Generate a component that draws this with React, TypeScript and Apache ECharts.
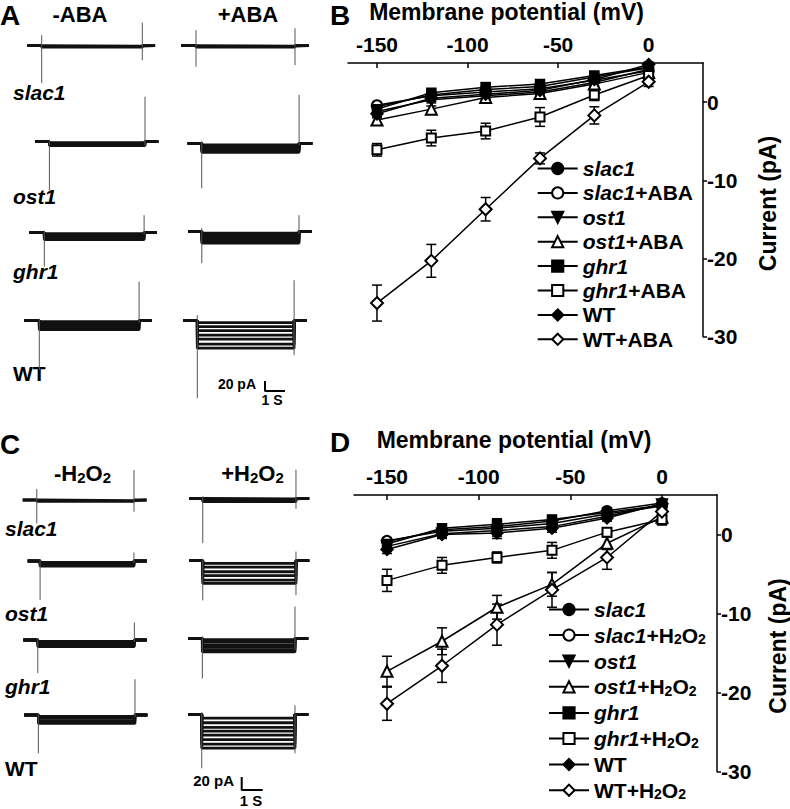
import React, { useEffect, useRef } from 'react';
import * as echarts from 'echarts';

// ================= DATA =================
const VOLTAGES = [-150, -120, -90, -60, -30, 0]; // mV
const MV_TICKS = [-150, -100, -50, 0];
const PA_TICKS = [-30, -20, -10, 0];
const GENOTYPES = ['slac1', 'ost1', 'ghr1', 'WT'];

// Panel B (ABA) I-V means (pA)
const B_NAMES = ['slac1', 'slac1+ABA', 'ost1', 'ost1+ABA', 'ghr1', 'ghr1+ABA', 'WT', 'WT+ABA'];
const B_SLAC1 = [-0.6, 0.9, 1.6, 2.0, 3.2, 4.4];
const B_SLAC1_ABA = [-0.4, 0.8, 1.3, 1.7, 2.8, 4.0];
const B_OST1 = [-1.2, 0.3, 0.8, 1.3, 2.5, 4.2];
const B_OST1_ABA = [-2.3, -0.9, 0.6, 1.1, 2.3, 3.8];
const B_GHR1 = [-0.9, 1.2, 1.9, 2.3, 3.4, 4.5];
const B_GHR1_ABA = [-6.1, -4.6, -3.7, -1.9, 0.9, 3.4];
const B_WT = [-1.5, 0.5, 1.0, 1.5, 2.9, 4.8];
const B_WT_ABA = [-25.7, -20.3, -13.7, -7.2, -1.7, 2.6];
// Panel B errors (pA)
const B_SLAC1_ERR = [0.5, 0.4, 0.5, 0.4, 0.4, 0.3];
const B_SLAC1_ABA_ERR = [0.4, 0.4, 0.4, 0.4, 0.4, 0.3];
const B_OST1_ERR = [0.5, 0.4, 0.5, 0.4, 0.4, 0.3];
const B_OST1_ABA_ERR = [0.4, 0.4, 0.4, 0.4, 0.4, 0.3];
const B_GHR1_ERR = [0.5, 0.4, 0.6, 0.4, 0.4, 0.3];
const B_GHR1_ABA_ERR = [0.8, 1.0, 1.0, 1.2, 0.7, 0.5];
const B_WT_ERR = [0.5, 0.4, 0.5, 0.4, 0.4, 0.3];
const B_WT_ABA_ERR = [2.3, 2.1, 1.5, 0.7, 1.1, 0.6];

// Panel D (H2O2) I-V means (pA)
const D_NAMES = ['slac1', 'slac1+H2O2', 'ost1', 'ost1+H2O2', 'ghr1', 'ghr1+H2O2', 'WT', 'WT+H2O2'];
const D_SLAC1 = [-0.9, 0.6, 1.0, 1.7, 3.0, 4.0];
const D_SLAC1_H2O2 = [-0.8, 0.4, 0.8, 1.4, 2.6, 3.6];
const D_OST1 = [-1.5, 0.1, 0.5, 1.0, 2.3, 3.8];
const D_OST1_H2O2 = [-17.3, -13.5, -9.2, -6.3, -1.1, 2.2];
const D_GHR1 = [-1.2, 0.8, 1.3, 1.9, 2.8, 3.7];
const D_GHR1_H2O2 = [-5.8, -3.9, -2.9, -2.0, 0.3, 1.9];
const D_WT = [-1.9, 0.0, 0.2, 0.8, 2.1, 3.9];
const D_WT_H2O2 = [-21.4, -16.6, -11.4, -7.0, -2.9, 2.9];
// Panel D errors (pA)
const D_SLAC1_ERR = [0.5, 0.5, 0.7, 0.5, 0.4, 0.3];
const D_SLAC1_H2O2_ERR = [0.4, 0.4, 0.6, 0.4, 0.4, 0.3];
const D_OST1_ERR = [0.5, 0.5, 0.7, 0.5, 0.4, 0.3];
const D_OST1_H2O2_ERR = [1.9, 1.7, 1.5, 1.5, 0.8, 0.5];
const D_GHR1_ERR = [0.5, 0.5, 0.7, 0.5, 0.4, 0.3];
const D_GHR1_H2O2_ERR = [1.4, 1.0, 0.7, 1.0, 0.5, 0.7];
const D_WT_ERR = [0.5, 0.5, 0.7, 0.5, 0.4, 0.3];
const D_WT_H2O2_ERR = [2.1, 2.1, 2.6, 2.2, 1.5, 0.5];

// Current traces: times (s) = [pulse on, pulse off, end]; levels (pA) of each sweep during pulse;
// transients (pA) = [on up, on down, off up, off down]. Rows: slac1, ost1, ghr1, WT
const A_MINUS_TIMES = [[0.72, 5.75, 6.39], [0.72, 5.5, 6.17], [0.75, 5.74, 6.37], [0.75, 5.74, 6.37]];
const A_MINUS_LEVELS = [[-1, -2, -3], [-2, -4, -6, -8], [-2, -5, -8, -11, -14], [-2, -6, -10, -14, -18]];
const A_MINUS_SPIKES = [[21, -75, 46, -29], [4, -97, 90, -8], [4, -68, 35, -4], [4, -99, 78, -4]];
const A_PLUS_TIMES = [[0.75, 5.7, 6.4], [0.7, 5.57, 6.23], [0.69, 5.55, 6.19], [0.7, 5.54, 6.17]];
const A_PLUS_LEVELS = [[-1, -2, -3], [-3, -6, -9, -12, -15, -18], [-3, -7, -11, -15, -19, -23], [-4, -12, -20, -29, -37, -47, -55]];
const A_PLUS_SPIKES = [[31, -42, 35, -39], [4, -90, 97, -4], [7, -63, 33, -4], [11, -155, 81, -69]];

const C_MINUS_TIMES = [[0.67, 5.3, 5.9], [0.59, 5.06, 5.67], [0.69, 5.29, 5.88], [0.67, 5.27, 5.86]];
const C_MINUS_LEVELS = [[-1, -2], [-2, -4, -6, -8], [-2, -4, -7, -10], [-2, -5, -9, -13]];
const C_MINUS_SPIKES = [[17, -36, 46, -18], [3, -60, 13, -3], [3, -51, 27, -3], [3, -59, 55, -3]];
const C_PLUS_TIMES = [[0.64, 5.08, 5.71], [0.64, 5.08, 5.71], [0.67, 5.08, 5.71], [0.64, 5.08, 5.71]];
const C_PLUS_LEVELS = [[-1, -2, -3, -5], [-4, -10, -17, -23, -30, -35], [-2, -6, -10, -14, -18, -21], [-6, -13, -20, -26, -32, -39, -46, -52]];
const C_PLUS_SPIKES = [[3, -69, 44, -16], [3, -61, 14, -53], [3, -62, 49, -18], [3, -83, 14, -60]];

// Scale bar values
const SCALE_PA = 20;
const SCALE_S = 1;

// ================= LAYOUT / STYLE =================
const FONT = '"Liberation Sans", Arial, Helvetica, sans-serif';
const A_PX_PER_S = 20;
const A_PX_PER_PA = 0.5;
const C_PX_PER_S = 21;
const C_PX_PER_PA = 0.65;
const A_MINUS_LEFT = [27.3, 35, 29.3, 24.3];
const A_MINUS_BASE = [45.7, 141.7, 232.7, 320.7];
const A_PLUS_LEFT = [181, 187.7, 188, 183.3];
const A_PLUS_BASE = [45.7, 143.3, 231.7, 320.7];
const C_MINUS_LEFT = [22.7, 27.7, 23.3, 24.3];
const C_MINUS_BASE = [500, 561, 640, 715];
const C_PLUS_LEFT = [189.3, 189.3, 188.3, 188.3];
const C_PLUS_BASE = [498.3, 560.7, 638.3, 714.3];

const SYMBOLS = ['circle', 'emptyCircle', 'triangle', 'emptyTriangle', 'rect', 'emptyRect', 'diamond', 'emptyDiamond'];
const SYMBOL_SIZES = [10, 10, 11, 11, 9, 9, 12, 12];
const SYMBOL_ROTATE = [0, 0, 180, 0, 0, 0, 0, 0];

function rich(size: number, lh: number) {
  const base = { fontFamily: FONT, fontWeight: 'bold', color: '#000', fill: '#000' };
  return {
    i: { ...base, fontSize: size, fontStyle: 'italic', lineHeight: lh },
    n: { ...base, fontSize: size, lineHeight: lh },
    s: { ...base, fontSize: Math.round(size * 0.66), lineHeight: Math.round(size * 0.6), verticalAlign: 'bottom' },
  };
}

function richLabel(label: string): string {
  const plus = label.indexOf('+');
  const minus = label.indexOf('-') === 0;
  let gene = plus >= 0 ? label.slice(0, plus) : label;
  let treat = plus >= 0 ? label.slice(plus) : '';
  if (minus) { gene = ''; treat = label; }
  let s = '';
  if (gene) s += gene === 'WT' ? `{n|${gene}}` : `{i|${gene}}`;
  if (treat.endsWith('H2O2')) s += `{n|${treat[0]}H}{s|2}{n|O}{s|2}`;
  else if (treat) s += `{n|${treat}}`;
  return s;
}

function errRender(_params: any, api: any) {
  const x = api.value(0);
  const y = api.value(1);
  const e = api.value(2);
  const p1 = api.coord([x, y + e]);
  const p2 = api.coord([x, y - e]);
  const hw = 5;
  const st = { stroke: '#000', lineWidth: 1.5 };
  return {
    type: 'group',
    children: [
      { type: 'line', shape: { x1: p1[0], y1: p1[1], x2: p2[0], y2: p2[1] }, style: st },
      { type: 'line', shape: { x1: p1[0] - hw, y1: p1[1], x2: p1[0] + hw, y2: p1[1] }, style: st },
      { type: 'line', shape: { x1: p2[0] - hw, y1: p2[1], x2: p2[0] + hw, y2: p2[1] }, style: st },
    ],
  };
}

function buildOption() {
  const grid: any[] = [];
  const xAxis: any[] = [];
  const yAxis: any[] = [];
  const series: any[] = [];
  const graphic: any[] = [];

  const addGrid = (g: any, xa: any, ya: any) => {
    const i = grid.length;
    grid.push(g);
    xAxis.push({ ...xa, gridIndex: i });
    yAxis.push({ ...ya, gridIndex: i });
    return i;
  };

  const addTrace = (left: number, base: number, pps: number, ppa: number,
    times: number[], levels: number[], spikes: number[]) => {
    const [tOn, tOff, tEnd] = times;
    const [onUp, onDown, offUp, offDown] = spikes;
    const yMax = Math.max(0, onUp, offUp, ...levels);
    const yMin = Math.min(0, onDown, offDown, ...levels);
    const gi = addGrid(
      { left, top: base - yMax * ppa, width: tEnd * pps, height: (yMax - yMin) * ppa },
      { type: 'value', min: 0, max: tEnd, show: false },
      { type: 'value', min: yMin, max: yMax, show: false },
    );
    const common = { type: 'line', xAxisIndex: gi, yAxisIndex: gi, symbol: 'none', clip: false, silent: true, animation: false };
    levels.forEach((L) => {
      series.push({
        ...common,
        data: [[0, 0], [tOn, 0], [tOn, L], [tOff, L], [tOff, 0], [tEnd, 0]],
        lineStyle: { color: '#111', width: 2.8 },
      });
    });
    series.push({ ...common, data: [[tOn, onUp], [tOn, onDown]], lineStyle: { color: '#555', width: 1 } });
    series.push({ ...common, data: [[tOff, offUp], [tOff, offDown]], lineStyle: { color: '#555', width: 1 } });
  };

  const addScaleBar = (cx: number, cy: number, pps: number, ppa: number) => {
    const gi = addGrid(
      { left: cx, top: cy - SCALE_PA * ppa, width: SCALE_S * pps, height: SCALE_PA * ppa },
      { type: 'value', min: 0, max: SCALE_S, show: false },
      { type: 'value', min: 0, max: SCALE_PA, show: false },
    );
    series.push({
      type: 'line', xAxisIndex: gi, yAxisIndex: gi, symbol: 'none', clip: false, silent: true,
      data: [[0, SCALE_PA], [0, 0], [SCALE_S, 0]],
      lineStyle: { color: '#000', width: 2 },
    });
  };

  GENOTYPES.forEach((_g, r) => {
    addTrace(A_MINUS_LEFT[r], A_MINUS_BASE[r], A_PX_PER_S, A_PX_PER_PA, A_MINUS_TIMES[r], A_MINUS_LEVELS[r], A_MINUS_SPIKES[r]);
    addTrace(A_PLUS_LEFT[r], A_PLUS_BASE[r], A_PX_PER_S, A_PX_PER_PA, A_PLUS_TIMES[r], A_PLUS_LEVELS[r], A_PLUS_SPIKES[r]);
    addTrace(C_MINUS_LEFT[r], C_MINUS_BASE[r], C_PX_PER_S, C_PX_PER_PA, C_MINUS_TIMES[r], C_MINUS_LEVELS[r], C_MINUS_SPIKES[r]);
    addTrace(C_PLUS_LEFT[r], C_PLUS_BASE[r], C_PX_PER_S, C_PX_PER_PA, C_PLUS_TIMES[r], C_PLUS_LEVELS[r], C_PLUS_SPIKES[r]);
  });
  addScaleBar(265, 391, A_PX_PER_S, A_PX_PER_PA);
  addScaleBar(241.7, 790, C_PX_PER_S, C_PX_PER_PA);

  const axisFont = { fontFamily: FONT, fontSize: 21, fontWeight: 'bold', color: '#000' };
  const axisLine = { onZero: false, lineStyle: { color: '#000', width: 1.5 } };

  const addIV = (key: string, g: any, xMin: number, names: string[], means: number[][], errs: number[][]) => {
    const gi = addGrid(
      g,
      {
        type: 'value', position: 'top', min: xMin, max: 30,
        axisLine,
        axisTick: { show: true, inside: true, length: 5, customValues: MV_TICKS, lineStyle: { color: '#000', width: 1.5 } },
        axisLabel: { ...axisFont, customValues: MV_TICKS, margin: 8 },
        splitLine: { show: false },
      },
      {
        type: 'value', position: 'right', min: -30, max: 5,
        axisLine,
        axisTick: { show: true, length: 4, customValues: PA_TICKS, lineStyle: { color: '#000', width: 1.5 } },
        axisLabel: { ...axisFont, customValues: PA_TICKS, margin: 4 },
        splitLine: { show: false },
      },
    );
    names.forEach((nm, k) => {
      series.push({
        type: 'custom', xAxisIndex: gi, yAxisIndex: gi, silent: true, z: 1,
        data: VOLTAGES.map((v, i) => [v, means[k][i], errs[k][i]]),
        encode: { x: 0, y: 1 },
        renderItem: errRender,
      });
      series.push({
        type: 'line', name: key + ':' + nm, xAxisIndex: gi, yAxisIndex: gi, z: 3,
        data: VOLTAGES.map((v, i) => [v, means[k][i]]),
        symbol: SYMBOLS[k], symbolSize: SYMBOL_SIZES[k], symbolRotate: SYMBOL_ROTATE[k],
        showAllSymbol: true,
        itemStyle: { color: '#000', borderColor: '#000', borderWidth: 1.5 },
        lineStyle: { color: '#000', width: 1.5 },
        emphasis: { disabled: true },
      });
    });
  };

  addIV('B', { left: 348, top: 63, width: 355, height: 273.7 }, -166, B_NAMES,
    [B_SLAC1, B_SLAC1_ABA, B_OST1, B_OST1_ABA, B_GHR1, B_GHR1_ABA, B_WT, B_WT_ABA],
    [B_SLAC1_ERR, B_SLAC1_ABA_ERR, B_OST1_ERR, B_OST1_ABA_ERR, B_GHR1_ERR, B_GHR1_ABA_ERR, B_WT_ERR, B_WT_ABA_ERR]);
  addIV('D', { left: 354, top: 495, width: 363, height: 276.7 }, -168, D_NAMES,
    [D_SLAC1, D_SLAC1_H2O2, D_OST1, D_OST1_H2O2, D_GHR1, D_GHR1_H2O2, D_WT, D_WT_H2O2],
    [D_SLAC1_ERR, D_SLAC1_H2O2_ERR, D_OST1_ERR, D_OST1_H2O2_ERR, D_GHR1_ERR, D_GHR1_H2O2_ERR, D_WT_ERR, D_WT_H2O2_ERR]);

  const legendBase = (key: string, names: string[], left: number, top: number, lh: number, gap: number) => ({
    data: names.map((n) => key + ':' + n),
    orient: 'vertical', left, top, padding: 0,
    itemWidth: 40, itemHeight: 14, itemGap: gap,
    selectedMode: false,
    formatter: (n: string) => richLabel(n.slice(2)),
    textStyle: { fontFamily: FONT, fontSize: 21, fontWeight: 'bold', color: '#000', rich: rich(21, lh) },
  });

  // graphic texts
  const text = (x: number, y: number, t: string, opts: any = {}) => ({
    type: 'text', x, y, rotation: opts.rotation || 0, silent: true,
    style: {
      text: t, fill: '#000', fontFamily: FONT, fontWeight: 'bold', fontSize: opts.size || 21,
      fontStyle: opts.italic ? 'italic' : 'normal',
      align: opts.align || 'center', verticalAlign: 'middle',
      rich: opts.rich,
    },
  });
  graphic.push(text(0, 15, 'A', { size: 28, align: 'left' }));
  graphic.push(text(330, 15, 'B', { size: 28, align: 'left' }));
  graphic.push(text(0, 444, 'C', { size: 28, align: 'left' }));
  graphic.push(text(330, 442, 'D', { size: 28, align: 'left' }));
  graphic.push(text(80, 14, richLabel('-ABA'), { size: 22, rich: rich(22, 24) }));
  graphic.push(text(248, 14, richLabel('+ABA'), { size: 22, rich: rich(22, 24) }));
  graphic.push(text(82.5, 473, richLabel('-H2O2'), { size: 22, rich: rich(22, 24) }));
  graphic.push(text(252.5, 473, richLabel('+H2O2'), { size: 22, rich: rich(22, 24) }));
  const A_ROW_Y = [92.7, 196, 271.7, 373.3];
  const C_ROW_Y = [528.3, 613.3, 686.7, 768.3];
  GENOTYPES.forEach((g, r) => {
    graphic.push(text(13, A_ROW_Y[r], g, { size: 21, align: 'left', italic: g !== 'WT' }));
    graphic.push(text(5, C_ROW_Y[r], g, { size: 21, align: 'left', italic: g !== 'WT' }));
  });
  graphic.push(text(506.5, 12, 'Membrane potential (mV)', { size: 23 }));
  graphic.push(text(514, 440, 'Membrane potential (mV)', { size: 23 }));
  graphic.push(text(768, 203.5, 'Current (pA)', { size: 23, rotation: Math.PI / 2 }));
  graphic.push(text(778, 646, 'Current (pA)', { size: 23, rotation: Math.PI / 2 }));
  graphic.push(text(256, 384, `${SCALE_PA} pA`, { size: 14, align: 'right' }));
  graphic.push(text(272, 400, `${SCALE_S} S`, { size: 14 }));
  graphic.push(text(234, 780, `${SCALE_PA} pA`, { size: 15, align: 'right' }));
  graphic.push(text(251, 800, `${SCALE_S} S`, { size: 15 }));

  return {
    animation: false,
    backgroundColor: '#fff',
    grid,
    xAxis,
    yAxis,
    series,
    legend: [
      legendBase('B', B_NAMES, 536.7, 158, 20, 3.4),
      legendBase('D', D_NAMES, 548, 599, 22, 4.6),
    ],
    graphic,
  };
}

export default function App() {
  const ref = useRef<HTMLDivElement>(null);
  useEffect(() => {
    if (!ref.current) return;
    const chart = echarts.init(ref.current, null, { renderer: 'svg' });
    chart.setOption(buildOption() as any);
    return () => chart.dispose();
  }, []);
  return (
    <div
      ref={ref}
      style={{ position: 'fixed', left: 0, top: 0, width: 790, height: 809, background: '#fff' }}
    />
  );
}
